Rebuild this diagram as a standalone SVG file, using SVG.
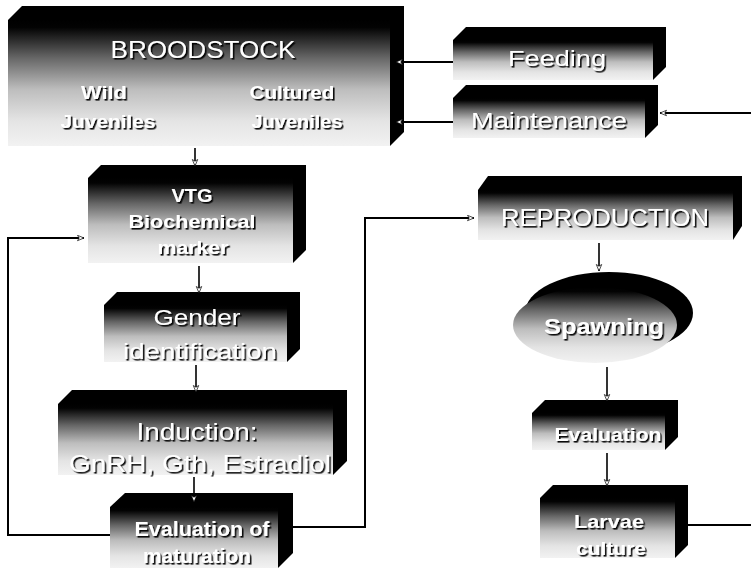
<svg xmlns="http://www.w3.org/2000/svg" width="751" height="571" viewBox="0 0 751 571">
<defs>
<linearGradient id="face" x1="0" y1="0" x2="0" y2="1">
<stop offset="0" stop-color="#000"/>
<stop offset="0.06" stop-color="#030303"/>
<stop offset="0.3" stop-color="#666"/>
<stop offset="0.55" stop-color="#bdbdbd"/>
<stop offset="0.8" stop-color="#e4e4e4"/>
<stop offset="1" stop-color="#f2f2f2"/>
</linearGradient>
<filter id="sh" x="-10%" y="-30%" width="120%" height="160%">
<feDropShadow dx="1.6" dy="1.6" stdDeviation="0.5" flood-color="#000" flood-opacity="0.95"/>
</filter>
<marker id="arr" markerUnits="userSpaceOnUse" markerWidth="8" markerHeight="8" refX="7" refY="3.5" orient="auto">
<path d="M0.5,0.8 L7,3.5 L0.5,6.2 L2.2,3.5 z" fill="#fff" stroke="#000" stroke-width="0.7"/>
</marker>
</defs>
<style>
.side{fill:#000}
.front{fill:url(#face)}
.t{font-family:"Liberation Sans",Arial,sans-serif;fill:#fff;text-anchor:middle;filter:url(#sh)}
.b{font-weight:bold}
.c{fill:none;stroke:#000;stroke-width:2}
.v{stroke-width:1.6}
</style>
<rect width="751" height="571" fill="#fff"/>

<g id="broodstock">
<polygon class="side" points="8,20 22,6 404,6 404,132 390,146 8,146"/>
<rect class="front" x="8" y="20" width="382" height="126"/>
<text class="t" x="203" y="58" font-size="23" textLength="185" lengthAdjust="spacingAndGlyphs">BROODSTOCK</text>
<text class="t b" x="104" y="99" font-size="19" textLength="46" lengthAdjust="spacingAndGlyphs">Wild</text>
<text class="t b" x="108" y="128" font-size="19" textLength="95" lengthAdjust="spacingAndGlyphs">Juveniles</text>
<text class="t b" x="292" y="99" font-size="19" textLength="85" lengthAdjust="spacingAndGlyphs">Cultured</text>
<text class="t b" x="297" y="128" font-size="19" textLength="91" lengthAdjust="spacingAndGlyphs">Juveniles</text>
</g>

<g id="feeding">
<polygon class="side" points="453,40 466,27 666,27 666,67 653,80 453,80"/>
<rect class="front" x="453" y="40" width="200" height="40"/>
<text class="t" x="557" y="66" font-size="22" textLength="98" lengthAdjust="spacingAndGlyphs">Feeding</text>
</g>

<g id="maintenance">
<polygon class="side" points="453,98 466,85 658,85 658,125 645,138 453,138"/>
<rect class="front" x="453" y="98" width="192" height="40"/>
<text class="t" x="549" y="128" font-size="22" textLength="156" lengthAdjust="spacingAndGlyphs">Maintenance</text>
</g>

<g id="vtg">
<polygon class="side" points="88,178 101,165 306,165 306,250 293,263 88,263"/>
<rect class="front" x="88" y="178" width="205" height="85"/>
<text class="t b" x="192" y="202" font-size="19" textLength="41" lengthAdjust="spacingAndGlyphs">VTG</text>
<text class="t b" x="192" y="228" font-size="19" textLength="127" lengthAdjust="spacingAndGlyphs">Biochemical</text>
<text class="t b" x="193" y="254" font-size="19" textLength="71" lengthAdjust="spacingAndGlyphs">marker</text>
</g>

<g id="gender">
<polygon class="side" points="104,305 117,292 300,292 300,349 287,362 104,362"/>
<rect class="front" x="104" y="305" width="183" height="57"/>
<text class="t" x="197" y="325" font-size="22" textLength="87" lengthAdjust="spacingAndGlyphs">Gender</text>
<text class="t" x="200" y="359" font-size="22" textLength="154" lengthAdjust="spacingAndGlyphs">identification</text>
</g>

<g id="induction">
<polygon class="side" points="58,404 72,390 347,390 347,461 333,475 58,475"/>
<rect class="front" x="58" y="404" width="275" height="71"/>
<text class="t" x="197" y="440" font-size="24" textLength="121" lengthAdjust="spacingAndGlyphs">Induction:</text>
<text class="t" x="200" y="472" font-size="24" textLength="262" lengthAdjust="spacingAndGlyphs">GnRH, Gth, Estradiol</text>
</g>

<g id="evaluation-maturation">
<polygon class="side" points="110,507 125,493 293,493 293,553 278,568 110,568"/>
<rect class="front" x="110" y="507" width="168" height="61"/>
<text class="t b" x="202" y="536" font-size="20" textLength="135" lengthAdjust="spacingAndGlyphs">Evaluation of</text>
<text class="t b" x="197" y="563" font-size="20" textLength="108" lengthAdjust="spacingAndGlyphs">maturation</text>
</g>

<g id="reproduction">
<polygon class="side" points="478,190 488,176 742,176 742,226 733,240 478,240"/>
<rect class="front" x="478" y="190" width="255" height="50"/>
<text class="t" x="605" y="226" font-size="23" textLength="208" lengthAdjust="spacingAndGlyphs">REPRODUCTION</text>
</g>

<g id="spawning">
<ellipse class="side" cx="609" cy="313" rx="84" ry="41"/>
<ellipse class="front" cx="595" cy="325" rx="82" ry="38"/>
<text class="t b" x="604" y="334" font-size="22" textLength="120" lengthAdjust="spacingAndGlyphs">Spawning</text>
</g>

<g id="evaluation">
<polygon class="side" points="532,413 545,400 678,400 678,437 665,450 532,450"/>
<rect class="front" x="532" y="413" width="133" height="37"/>
<text class="t b" x="608" y="441" font-size="19" textLength="107" lengthAdjust="spacingAndGlyphs">Evaluation</text>
</g>

<g id="larvae-culture">
<polygon class="side" points="540,498 553,485 688,485 688,545 675,558 540,558"/>
<rect class="front" x="540" y="498" width="135" height="60"/>
<text class="t b" x="609" y="528" font-size="19" textLength="70" lengthAdjust="spacingAndGlyphs">Larvae</text>
<text class="t b" x="611" y="555" font-size="19" textLength="70" lengthAdjust="spacingAndGlyphs">culture</text>
</g>

<g id="connectors">
<line class="c" x1="453" y1="62" x2="396" y2="62" marker-end="url(#arr)"/>
<line class="c" x1="453" y1="122" x2="396" y2="122" marker-end="url(#arr)"/>
<line class="c" x1="751" y1="113" x2="660" y2="113" marker-end="url(#arr)"/>
<line class="c v" x1="195" y1="148" x2="195" y2="166" marker-end="url(#arr)"/>
<line class="c v" x1="199" y1="266" x2="199" y2="293" marker-end="url(#arr)"/>
<line class="c v" x1="196" y1="365" x2="196" y2="392" marker-end="url(#arr)"/>
<line class="c v" x1="194" y1="477" x2="194" y2="502" marker-end="url(#arr)"/>
<polyline class="c" points="110,535 8,535 8,238 84,238" marker-end="url(#arr)"/>
<polyline class="c" points="293,527 365,527 365,218 474,218" marker-end="url(#arr)"/>
<line class="c v" x1="599" y1="243" x2="599" y2="271" marker-end="url(#arr)"/>
<line class="c v" x1="607" y1="367" x2="607" y2="401" marker-end="url(#arr)"/>
<line class="c v" x1="607" y1="453" x2="607" y2="486" marker-end="url(#arr)"/>
<line class="c" x1="688" y1="525" x2="751" y2="525"/>
</g>
</svg>
